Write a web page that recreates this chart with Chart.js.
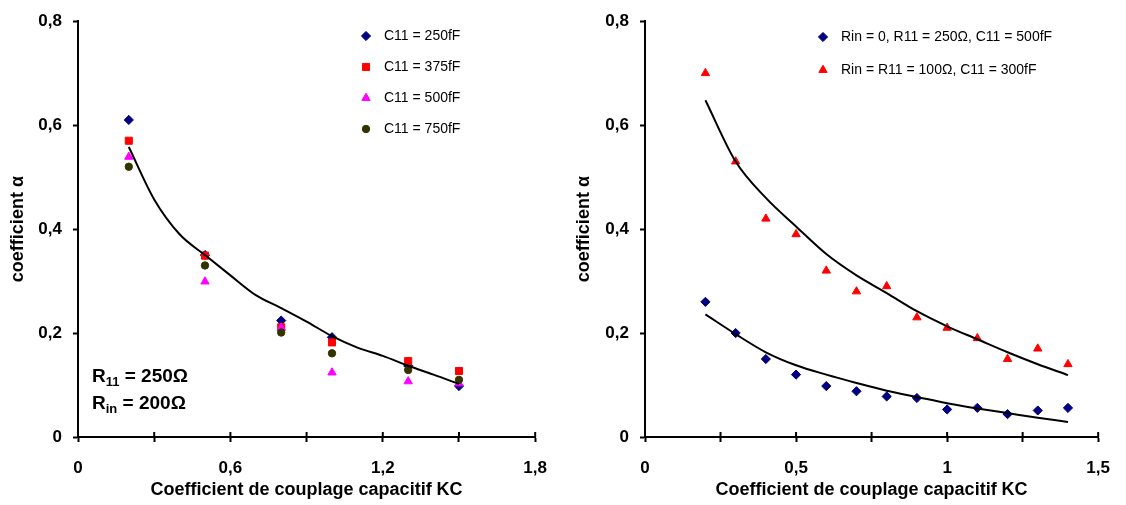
<!DOCTYPE html>
<html lang="fr">
<head>
<meta charset="utf-8">
<title>Coefficient α</title>
<script src="https://cdn.jsdelivr.net/npm/chart.js@4.4.0/dist/chart.umd.min.js"></script>
<style>
  body { margin: 0; background: #fff; }
  #wrap { position: relative; width: 1126px; height: 505px; }
  .box { position: absolute; top: 0; width: 563px; height: 505px; }
</style>
</head>
<body>
<div id="wrap">
  <div class="box" style="left:0"><canvas id="chartL"></canvas></div>
  <div class="box" style="left:563px"><canvas id="chartR"></canvas></div>
</div>

<script>
// --- left chart data (R11 = 250 ohm, Rin = 200 ohm)
var kcLeft = [0.2, 0.5, 0.8, 1.0, 1.3, 1.5];
var alphaC250 = [0.61, 0.35, 0.224, 0.192, 0.137, 0.098];
var alphaC375 = [0.57, 0.349, 0.211, 0.182, 0.146, 0.127];
var alphaC500 = [0.539, 0.299, 0.21, 0.124, 0.107, 0.103];
var alphaC750 = [0.52, 0.33, 0.201, 0.161, 0.129, 0.11];
var kcLeftTrend = [0.2, 0.3, 0.4, 0.5, 0.6, 0.7, 0.8, 0.9, 1.0, 1.1, 1.2, 1.3, 1.4, 1.5];
var alphaLeftTrend = [0.558, 0.457, 0.39, 0.35, 0.311, 0.273, 0.248, 0.222, 0.194, 0.172, 0.156, 0.137, 0.12, 0.102];

// --- right chart data
var kcRight = [0.2, 0.3, 0.4, 0.5, 0.6, 0.7, 0.8, 0.9, 1.0, 1.1, 1.2, 1.3, 1.4];
var alphaRin0 = [0.26, 0.2, 0.15, 0.12, 0.098, 0.088, 0.078, 0.075, 0.053, 0.056, 0.044, 0.051, 0.056];
var alphaRin100 = [0.7, 0.53, 0.42, 0.39, 0.32, 0.28, 0.29, 0.23, 0.21, 0.19, 0.15, 0.17, 0.14];
var trendRin0 = [0.236, 0.198, 0.163, 0.138, 0.12, 0.104, 0.089, 0.077, 0.065, 0.055, 0.046, 0.037, 0.029];
var trendRin100 = [0.648, 0.53, 0.46, 0.405, 0.352, 0.311, 0.277, 0.242, 0.213, 0.188, 0.163, 0.14, 0.119];

var yTicks = [0, 0.2, 0.4, 0.6, 0.8];

var FONT = "'Liberation Sans', Arial, sans-serif";

function pts(xs, ys) {
    return xs.map(function (x, i) { return { x: x, y: ys[i] }; });
}

function fmt(v) {
    return String(Math.round(v * 100) / 100).replace('.', ',');
}

function markers(label, xs, ys, color, style, r, order) {
    return {
        label: label, data: pts(xs, ys), order: order,
        pointStyle: style, pointRadius: r, pointHoverRadius: r,
        backgroundColor: color, borderColor: color, pointBorderWidth: 1
    };
}

function trend(xs, ys) {
    return {
        type: 'line', data: pts(xs, ys), order: 0, showLine: true,
        borderColor: '#000', borderWidth: 2, pointRadius: 0,
        cubicInterpolationMode: 'monotone', fill: false
    };
}

function axes(xMax, xStep, yWidth, yTitlePad) {
    return {
        x: {
            type: 'linear', min: 0, max: xMax,
            border: { color: '#000', width: 2 },
            grid: { drawOnChartArea: false, tickColor: '#000', tickWidth: 2, tickLength: 5 },
            ticks: {
                stepSize: xStep, autoSkip: false, maxRotation: 0, padding: 16, color: '#000',
                font: { family: FONT, size: 17, weight: 'bold' },
                callback: function (v, i) { return i % 2 ? '' : fmt(v); }
            },
            title: {
                display: true, text: 'Coefficient de couplage capacitif KC', color: '#000',
                font: { family: FONT, size: 18, weight: 'bold' }, padding: { top: 0, bottom: 4 }
            },
            afterFit: function (s) { s.height = 68; }
        },
        y: {
            min: 0, max: 0.8,
            border: { color: '#000', width: 2 },
            grid: { drawOnChartArea: false, tickColor: '#000', tickWidth: 2, tickLength: 5 },
            afterBuildTicks: function (s) { s.ticks = yTicks.map(function (v) { return { value: v }; }); },
            ticks: {
                padding: 11, color: '#000',
                font: { family: FONT, size: 17, weight: 'bold' },
                callback: function (v) { return fmt(v); }
            },
            title: {
                display: true, text: 'coefficient α', color: '#000',
                font: { family: FONT, size: 18, weight: 'bold' }, padding: { top: yTitlePad, bottom: 0 }
            },
            afterFit: function (s) { s.width = yWidth; }
        }
    };
}

// legend + extra text + ticks crossing the x axis
function decor(legendItems, lx, ly, gap, notes) {
    return {
        id: 'decor',
        afterDraw: function (chart) {
            var ctx = chart.ctx;
            var xs = chart.scales.x, area = chart.chartArea;
            ctx.save();
            ctx.strokeStyle = '#000';
            ctx.lineWidth = 2;
            xs.ticks.forEach(function (t) {
                var px = xs.getPixelForValue(t.value);
                ctx.beginPath();
                ctx.moveTo(px, area.bottom - 5);
                ctx.lineTo(px, area.bottom);
                ctx.stroke();
            });

            ctx.font = '14px ' + FONT;
            ctx.textBaseline = 'middle';
            legendItems.forEach(function (it, i) {
                var y = ly + i * gap;
                ctx.fillStyle = it.color;
                ctx.strokeStyle = it.color;
                ctx.lineWidth = 1;
                Chart.helpers.drawPoint(ctx, { pointStyle: it.style, radius: it.r, rotation: 0, borderWidth: 1 }, lx, y);
                ctx.fillStyle = '#000';
                ctx.fillText(it.label, lx + 18, y);
            });

            ctx.fillStyle = '#000';
            notes.forEach(function (n) {
                var x = n.x;
                ctx.font = 'bold 19px ' + FONT;
                ctx.fillText(n.main, x, n.y);
                x += ctx.measureText(n.main).width;
                ctx.font = 'bold 13px ' + FONT;
                ctx.fillText(n.sub, x, n.y + 5);
                x += ctx.measureText(n.sub).width;
                ctx.font = 'bold 19px ' + FONT;
                ctx.fillText(n.rest, x, n.y);
            });
            ctx.restore();
        }
    };
}

Chart.defaults.font.family = FONT;

var leftSets = [
    markers('C11 = 250fF', kcLeft, alphaC250, '#000080', 'rectRot', 4.6, 4),
    markers('C11 = 375fF', kcLeft, alphaC375, '#FF0000', 'rect', 5.0, 3),
    markers('C11 = 500fF', kcLeft, alphaC500, '#FF00FF', 'triangle', 4.8, 2),
    markers('C11 = 750fF', kcLeft, alphaC750, '#333300', 'circle', 3.7, 1),
    trend(kcLeftTrend, alphaLeftTrend)
];

new Chart('chartL', {
    type: 'scatter',
    data: { datasets: leftSets },
    options: {
        responsive: true, maintainAspectRatio: false, animation: false,
        layout: { padding: { top: 16, right: 26, bottom: 0, left: 0 } },
        plugins: { legend: { display: false }, tooltip: { enabled: false } },
        scales: axes(1.8, 0.3, 78, 7)
    },
    plugins: [decor(
        leftSets.slice(0, 4).map(function (d) {
            return { label: d.label, color: d.backgroundColor, style: d.pointStyle, r: d.pointRadius };
        }),
        366, 36, 31,
        [{ x: 92, y: 377, main: 'R', sub: '11', rest: ' = 250Ω' },
         { x: 92, y: 404, main: 'R', sub: 'in', rest: ' = 200Ω' }]
    )]
});

var rightSets = [
    markers('Rin = 0, R11 = 250Ω, C11 = 500fF', kcRight, alphaRin0, '#000080', 'rectRot', 4.6, 2),
    markers('Rin = R11 = 100Ω, C11 = 300fF', kcRight, alphaRin100, '#FF0000', 'triangle', 4.8, 1),
    trend(kcRight, trendRin0),
    trend(kcRight, trendRin100)
];

new Chart('chartR', {
    type: 'scatter',
    data: { datasets: rightSets },
    options: {
        responsive: true, maintainAspectRatio: false, animation: false,
        layout: { padding: { top: 16, right: 22, bottom: 0, left: 0 } },
        plugins: { legend: { display: false }, tooltip: { enabled: false } },
        scales: axes(1.5, 0.25, 82, 10)
    },
    plugins: [decor(
        rightSets.slice(0, 2).map(function (d) {
            return { label: d.label, color: d.backgroundColor, style: d.pointStyle, r: d.pointRadius };
        }),
        823 - 563, 37, 33, []
    )]
});
</script>
</body>
</html>
